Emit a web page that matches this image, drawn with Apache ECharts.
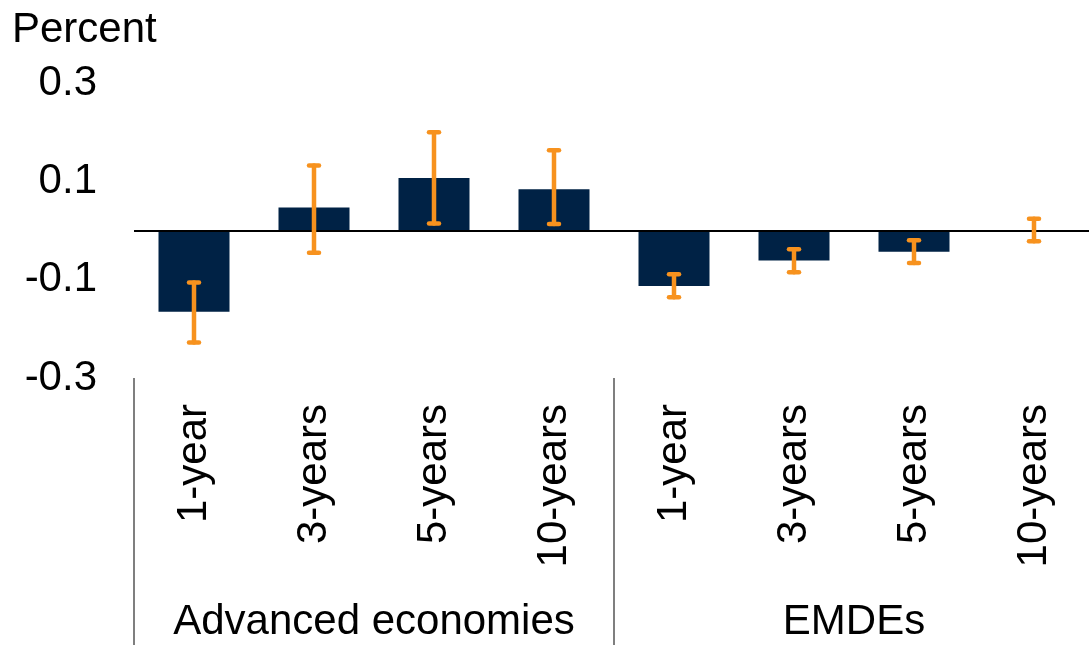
<!DOCTYPE html>
<html>
<head>
<meta charset="utf-8">
<script src="https://cdn.jsdelivr.net/npm/echarts@6/dist/echarts.min.js"></script>
<style>
  html, body { margin: 0; padding: 0; background: #fff; }
  #chart { width: 1089px; height: 645px; }
</style>
</head>
<body>
<div id="chart"></div>
<script>
const categories = ['1-year', '3-years', '5-years', '10-years', '1-year', '3-years', '5-years', '10-years']
const groups = ['Advanced economies', 'EMDEs']
const values = [-0.165, 0.047, 0.107, 0.084, -0.113, -0.061, -0.043, 0.001]
const lower = [-0.228, -0.045, 0.014, 0.013, -0.136, -0.085, -0.066, -0.022]
const upper = [-0.106, 0.132, 0.200, 0.163, -0.089, -0.038, -0.020, 0.024]
const yTicks = [-0.3, -0.1, 0.1, 0.3]

const font = 'Liberation Sans, Arial, sans-serif'
const chart = echarts.init(document.getElementById('chart'))

const errorData = categories.map((c, i) => [i, lower[i], upper[i]])

chart.setOption({
  animation: false,
  title: {
    text: 'Percent',
    left: 7,
    top: 4,
    textStyle: { fontFamily: font, fontSize: 42, fontWeight: 'normal', color: '#000' }
  },
  // grid runs past the right edge, so don't let v6 squeeze it back in
  grid: { left: 134, top: 83, width: 960, height: 295, outerBoundsMode: 'none' },
  xAxis: [
    {
      type: 'category',
      data: categories,
      axisLine: { show: false },
      axisTick: { show: false },
      axisLabel: {
        rotate: 90,
        interval: 0,
        margin: 26,
        fontFamily: font,
        fontSize: 42,
        color: '#000'
      }
    },
    {
      type: 'category',
      data: groups,
      position: 'bottom',
      axisLine: { show: false },
      axisTick: {
        show: true,
        interval: 0,
        length: 270,
        lineStyle: { color: '#555', width: 1.5 }
      },
      axisLabel: {
        interval: 0,
        margin: 223,
        fontFamily: font,
        fontSize: 42,
        color: '#000'
      }
    }
  ],
  yAxis: {
    type: 'value',
    min: yTicks[0],
    max: yTicks[yTicks.length - 1],
    interval: 0.2,
    axisLine: { show: false },
    axisTick: { show: false },
    splitLine: { show: false },
    axisLabel: {
      margin: 37,
      fontFamily: font,
      fontSize: 42,
      color: '#000',
      formatter: v => v.toFixed(1)
    }
  },
  series: [
    {
      type: 'bar',
      data: values,
      barWidth: 71,
      itemStyle: { color: '#002245' },
      markLine: {
        silent: true,
        symbol: 'none',
        label: { show: false },
        lineStyle: { color: '#000', width: 2, type: 'solid' },
        data: [{ yAxis: 0 }]
      },
      z: 2
    },
    {
      type: 'custom',
      data: errorData,
      z: 5,
      renderItem: (params, api) => {
        const x = api.value(0)
        const lo = api.coord([x, api.value(1)])
        const hi = api.coord([x, api.value(2)])
        const capW = 5
        const style = { stroke: '#F7921E', lineWidth: 4.5, lineCap: 'round' }
        return {
          type: 'group',
          children: [
            { type: 'line', shape: { x1: hi[0], y1: hi[1], x2: lo[0], y2: lo[1] }, style },
            { type: 'line', shape: { x1: hi[0] - capW, y1: hi[1], x2: hi[0] + capW, y2: hi[1] }, style },
            { type: 'line', shape: { x1: lo[0] - capW, y1: lo[1], x2: lo[0] + capW, y2: lo[1] }, style }
          ]
        }
      }
    }
  ]
})
</script>
</body>
</html>
